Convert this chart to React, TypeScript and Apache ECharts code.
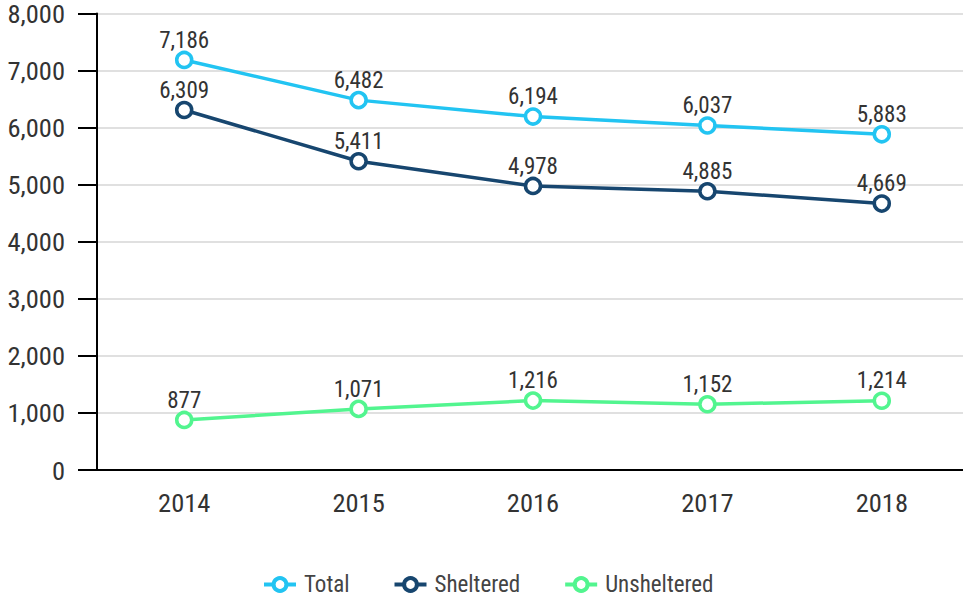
import React, { useEffect, useRef } from "react";
import * as echarts from "echarts";

const years = ["2014", "2015", "2016", "2017", "2018"];
const total = [7186, 6482, 6194, 6037, 5883];
const sheltered = [6309, 5411, 4978, 4885, 4669];
const unsheltered = [877, 1071, 1216, 1152, 1214];

const FONT = "'Roboto Condensed', Roboto, sans-serif";

function mkSeries(name: string, data: number[], color: string) {
  return {
    name,
    type: "line",
    data,
    symbol: "circle",
    symbolSize: 15,
    showAllSymbol: true,
    lineStyle: { color, width: 3.5 },
    itemStyle: { color: "#ffffff", borderColor: color, borderWidth: 3.5 },
    label: {
      show: true,
      position: "top",
      distance: -1,
      color: "#333333",
      fontSize: 23,
      fontFamily: FONT,
      formatter: (p: any) => Number(p.value).toLocaleString("en-US"),
    },
    emphasis: { disabled: true },
  };
}

export default function App() {
  const ref = useRef<HTMLDivElement>(null);
  useEffect(() => {
    document.body.style.margin = "0";
    const chart = echarts.init(ref.current!, null, { renderer: "svg" });
    chart.setOption({
      animation: false,
      textStyle: { fontFamily: FONT },
      grid: { left: 97, right: 0, top: 12, bottom: 127, containLabel: false },
      legend: {
        left: 257,
        top: 568,
        itemWidth: 32,
        itemHeight: 16,
        itemGap: 43,
        lineStyle: { width: 4 },
        itemStyle: { borderWidth: 4 },
        textStyle: { color: "#444444", fontSize: 23, fontFamily: FONT, padding: [0, 0, 0, 3] },
        data: ["Total", "Sheltered", "Unsheltered"],
      },
      xAxis: {
        type: "category",
        data: years,
        boundaryGap: true,
        axisLine: { lineStyle: { color: "#000000", width: 2 } },
        axisTick: { alignWithLabel: true, length: 18, lineStyle: { color: "#000", width: 2 } },
        axisLabel: { color: "#333333", fontSize: 26.5, fontFamily: FONT, margin: 19 },
        splitLine: { show: false },
      },
      yAxis: {
        type: "value",
        min: 0,
        max: 8000,
        interval: 1000,
        axisLine: { show: true, lineStyle: { color: "#000000", width: 2 } },
        axisTick: { show: true, length: 19, lineStyle: { color: "#000", width: 2 } },
        axisLabel: {
          color: "#333333",
          fontSize: 26.5,
          lineHeight: 24,
          fontFamily: FONT,
          margin: 32,
          formatter: (v: number) => v.toLocaleString("en-US"),
        },
        splitLine: { lineStyle: { color: "#e0e0e0", width: 2 } },
      },
      series: [
        mkSeries("Total", total, "#22c4f2"),
        mkSeries("Sheltered", sheltered, "#17466f"),
        mkSeries("Unsheltered", unsheltered, "#52f58f"),
      ],
    });
    return () => chart.dispose();
  }, []);
  return (
    <div style={{ width: 963, height: 597, overflow: "hidden" }}>
      <div ref={ref} style={{ width: 969, height: 597 }} />
    </div>
  );
}
